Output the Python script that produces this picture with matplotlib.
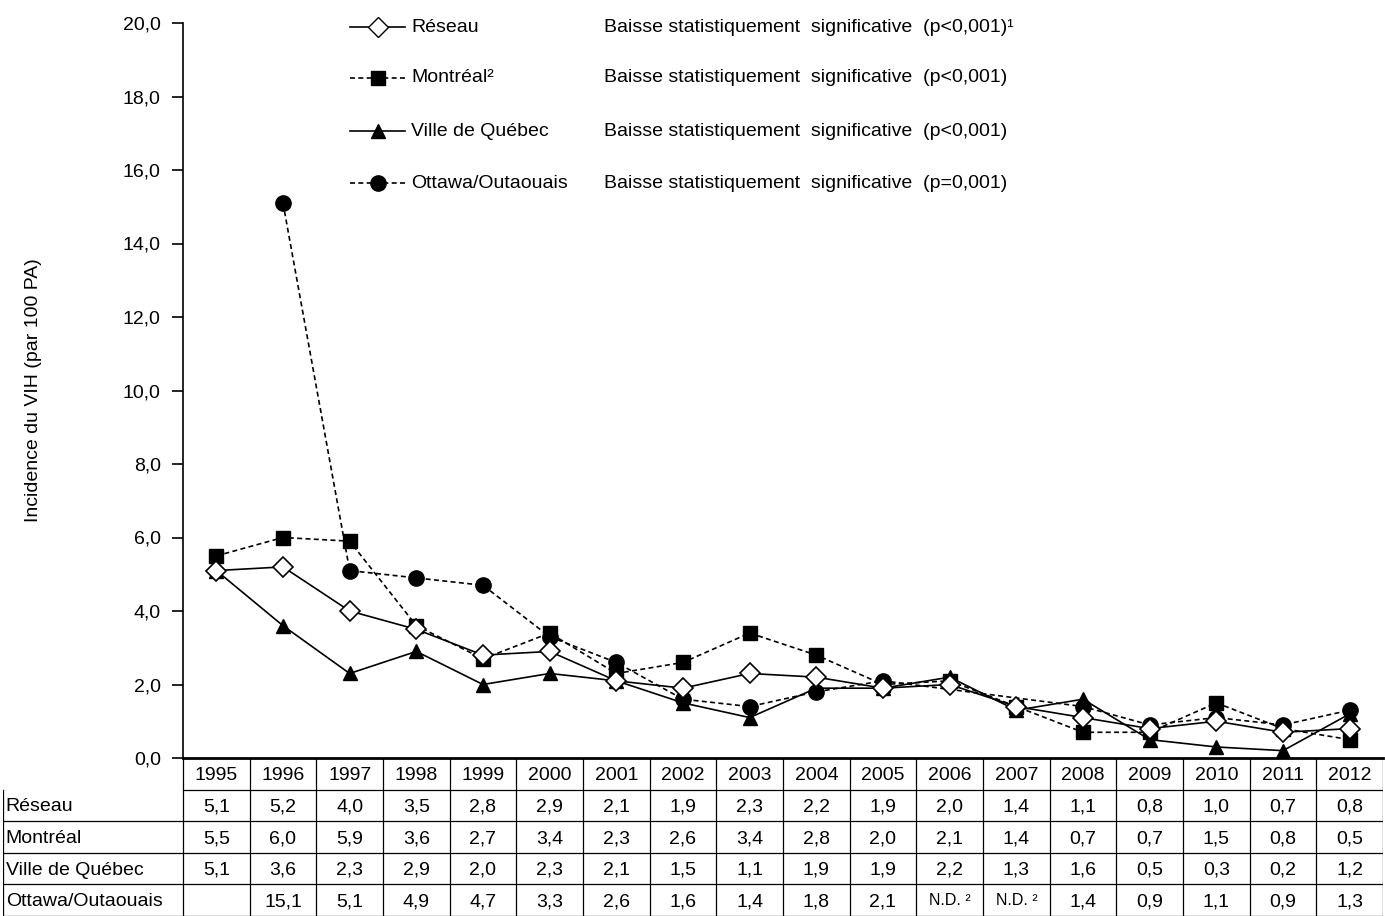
import numpy as np
import matplotlib
matplotlib.use("Agg")
from matplotlib import pyplot as plt
from matplotlib.lines import Line2D

plt.rcParams['font.family'] = ['Liberation Sans', 'DejaVu Sans']

years = [str(y) for y in range(1995, 2013)]
series = ["Réseau", "Montréal", "Ville de Québec", "Ottawa/Outaouais"]
reseau = [5.1, 5.2, 4.0, 3.5, 2.8, 2.9, 2.1, 1.9, 2.3, 2.2, 1.9, 2.0, 1.4, 1.1, 0.8, 1.0, 0.7, 0.8]
montreal = [5.5, 6.0, 5.9, 3.6, 2.7, 3.4, 2.3, 2.6, 3.4, 2.8, 2.0, 2.1, 1.4, 0.7, 0.7, 1.5, 0.8, 0.5]
quebec = [5.1, 3.6, 2.3, 2.9, 2.0, 2.3, 2.1, 1.5, 1.1, 1.9, 1.9, 2.2, 1.3, 1.6, 0.5, 0.3, 0.2, 1.2]
ottawa = [np.nan, 15.1, 5.1, 4.9, 4.7, 3.3, 2.6, 1.6, 1.4, 1.8, 2.1, np.nan, np.nan, 1.4, 0.9, 1.1, 0.9, 1.3]
legend_labels = ["Réseau", "Montréal²", "Ville de Québec", "Ottawa/Outaouais"]
legend_notes = ["Baisse statistiquement  significative  (p<0,001)¹",
                "Baisse statistiquement  significative  (p<0,001)",
                "Baisse statistiquement  significative  (p<0,001)",
                "Baisse statistiquement  significative  (p=0,001)"]
yticks = [0, 2, 4, 6, 8, 10, 12, 14, 16, 18, 20]

W, H = 1385, 916
fig = plt.figure(figsize=(W / 100, H / 100), dpi=100)
FS = 14

def fx(px):
    return px / W

def fy(py):
    return 1 - py / H

ax_left, ax_right, ax_top, ax_bot = 183, 1383, 23, 758
ax = fig.add_axes([fx(ax_left), fy(ax_bot), fx(ax_right - ax_left), (ax_bot - ax_top) / H])

x = np.arange(len(years)) + 0.5
styles = [
    dict(ls="-", marker="D", mfc="white", mec="black", ms=10, mew=1.2),
    dict(ls=(0, (3, 2)), marker="s", mfc="black", mec="black", ms=10, mew=1),
    dict(ls="-", marker="^", mfc="black", mec="black", ms=10, mew=1),
    dict(ls=(0, (3, 2)), marker="o", mfc="black", mec="black", ms=11, mew=1),
]
data = [reseau, montreal, quebec, ottawa]
# draw in reverse so the open diamonds stay visible on top
for vals, st in reversed(list(zip(data, styles))):
    v = np.array(vals, dtype=float)
    ok = ~np.isnan(v)
    ax.plot(x[ok], v[ok], color="black", lw=1.2, **st)

ax.set_xlim(0, 18)
ax.set_ylim(0, 20)
ax.set_yticks(yticks)
ax.set_yticklabels([f"{t:.1f}".replace(".", ",") for t in yticks], fontsize=FS)
ax.set_xticks([])
for s in ["top", "right"]:
    ax.spines[s].set_visible(False)
ax.spines["left"].set_linewidth(1.2)
ax.spines["bottom"].set_linewidth(2)
ax.tick_params(axis="y", direction="out", length=8, width=1.2, pad=8)
ax.set_ylabel("Incidence du VIH (par 100 PA)", fontsize=FS, labelpad=58)

# legend drawn manually
leg_y = [27, 78, 131, 183]
for i in range(4):
    y = fy(leg_y[i])
    st = styles[i]
    fig.add_artist(Line2D([fx(350), fx(405)], [y, y], transform=fig.transFigure,
                          color="black", lw=1.2, ls=st["ls"]))
    fig.add_artist(Line2D([fx(378)], [y], transform=fig.transFigure, color="black",
                          marker=st["marker"], mfc=st["mfc"], mec=st["mec"], ms=st["ms"]))
    fig.text(fx(411), y, legend_labels[i], fontsize=FS, va="center", ha="left")
    fig.text(fx(604), y, legend_notes[i], fontsize=FS, va="center", ha="left")

# data table
tb = fig.add_axes([fx(3), 0, fx(1380), fy(ax_bot)])
tb.set_xlim(-2.7, 18)
tb.set_ylim(5, 0)
tb.axis("off")
rows_vals = [reseau, montreal, quebec, ottawa]
lw = 0.9
tb.plot([0, 18], [1, 1], color="black", lw=lw)
for r in range(2, 5):
    tb.plot([-2.7, 18], [r, r], color="black", lw=lw)
tb.plot([-2.7, 18], [4.985, 4.985], color="black", lw=lw)
tb.plot([-2.7, -2.7], [1, 5], color="black", lw=lw)
for c in range(0, 19):
    tb.plot([c, c], [0, 5], color="black", lw=lw)
for j, yr in enumerate(years):
    tb.text(j + 0.5, 0.55, yr, ha="center", va="center", fontsize=FS)
for r, (name, vals) in enumerate(zip(series, rows_vals)):
    tb.text(-2.66, r + 1.55, name, ha="left", va="center", fontsize=FS)
    for j, v in enumerate(vals):
        if np.isnan(v):
            if j == 0:
                continue
            tb.text(j + 0.5, r + 1.5, "N.D. ²", ha="center", va="center", fontsize=11.5)
        else:
            tb.text(j + 0.5, r + 1.55, f"{v:.1f}".replace(".", ","), ha="center", va="center", fontsize=FS)

fig.savefig("out.png", dpi=100)
